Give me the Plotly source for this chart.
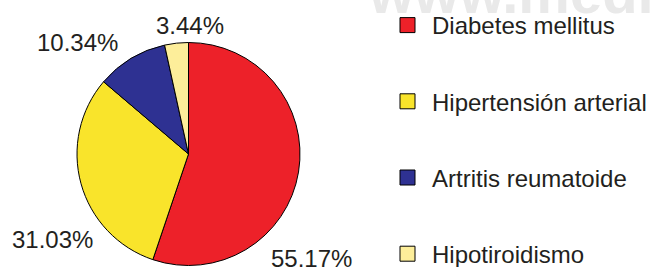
import plotly.graph_objects as go

categories = ["Diabetes mellitus", "Hipertensión arterial", "Artritis reumatoide", "Hipotiroidismo"]
values = [55.17, 31.03, 10.34, 3.44]
colors = ["#ED2129", "#F9E42B", "#2E3192", "#FDEE9A"]
label_pos = [(311, 258), (52, 239), (77, 43), (190, 25)]  # label centers in pixels

W, H = 651, 267
FONT = "Liberation Sans, Arial, sans-serif"

fig = go.Figure()
fig.add_trace(go.Pie(
    labels=categories, values=values, sort=False, direction="clockwise", rotation=0,
    marker=dict(colors=colors, line=dict(color="black", width=1)),
    textinfo="none", showlegend=False, hoverinfo="label+value",
    domain=dict(x=[77 / W, 300 / W], y=[1 - 265.5 / H, 1 - 42.5 / H]),
))
for i, (c, col) in enumerate(zip(categories, colors)):
    fig.add_trace(go.Scatter(
        x=[None], y=[None], mode="markers", name=c, legendgroup=f"g{i}",
        marker=dict(symbol="square", size=15, color=col, line=dict(color="black", width=1)),
    ))

annotations = [dict(
    x=366 / W, y=1 - 27.5 / H, xref="paper", yref="paper", showarrow=False,
    text="<b>www.medigraphic.org.mx</b>", xanchor="left", yanchor="bottom",
    font=dict(family=FONT, size=58, color="#E9E9E9"),
)]
for v, (px, py) in zip(values, label_pos):
    annotations.append(dict(
        x=px / W, y=1 - py / H, xref="paper", yref="paper", showarrow=False,
        text=f"{v:.2f}%", xanchor="center", yanchor="middle",
        font=dict(family=FONT, size=24, color="#231F20"),
    ))

fig.update_layout(
    width=W, height=H, margin=dict(l=0, r=0, t=0, b=0, autoexpand=False),
    paper_bgcolor="white", plot_bgcolor="white",
    xaxis=dict(visible=False), yaxis=dict(visible=False),
    font=dict(family=FONT, size=24, color="#231F20"),
    legend=dict(x=383 / W, y=1 - 3 / H, xanchor="left", yanchor="top",
                tracegroupgap=42, font=dict(size=24), bgcolor="rgba(0,0,0,0)",
                itemwidth=39),
    annotations=annotations,
)
fig.write_html("out.html", config={"displayModeBar": False},
               post_script="document.body.style.margin='0';")
